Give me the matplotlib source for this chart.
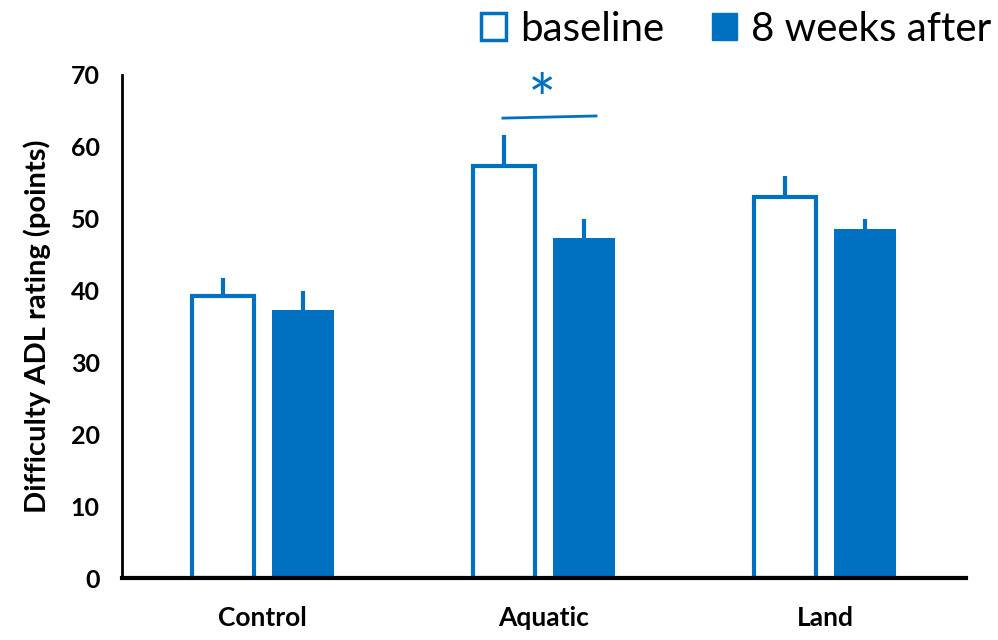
import matplotlib.pyplot as plt
import numpy as np
from matplotlib.patches import Patch

# data
groups = ["Control", "Aquatic", "Land"]
baseline = [39.2, 57.4, 53.0]
baseline_err = [2.5, 4.2, 3.0]
after = [37.3, 47.3, 48.5]
after_err = [2.6, 2.6, 1.4]

blue = "#0070C0"
plt.rcParams['font.family'] = ['Lato', 'DejaVu Sans']

fig = plt.figure(figsize=(9.98, 6.4), dpi=100)
ax = fig.add_axes([122/998, 62/640, (966-122)/998, (578-75)/640])

x = np.arange(len(groups))
w = 0.22
off = 0.142

ax.bar(x - off, baseline, w, color="white", edgecolor=blue, linewidth=3, zorder=2)
ax.bar(x + off, after, w, color=blue, edgecolor=blue, linewidth=0, zorder=2)
# upper error bars only, no caps
ax.errorbar(x - off, baseline, yerr=[np.zeros(3), baseline_err], fmt="none",
            ecolor=blue, elinewidth=3, capsize=0, zorder=1)
ax.errorbar(x + off, after, yerr=[np.zeros(3), after_err], fmt="none",
            ecolor=blue, elinewidth=3, capsize=0, zorder=1)

# significance mark over Aquatic
ax.plot([0.854, 1.185], [64.0, 64.3], color=blue, lw=2)
ax.text(0.993, 66.0, "*", color=blue, fontsize=48, ha="center", va="center")

ax.set_xlim(-0.5, 2.5)
ax.set_ylim(0, 70)
ax.set_yticks(range(0, 71, 10))
ax.set_xticks(x)
ax.set_xticklabels(groups, fontsize=19, fontweight="bold")
for lab in ax.get_yticklabels():
    lab.set_fontsize(18)
    lab.set_fontweight("bold")
ax.tick_params(length=0)
ax.tick_params(axis="y", pad=16)
ax.tick_params(axis="x", pad=20)
ax.set_ylabel("Difficulty ADL rating (points)", fontsize=21, fontweight="bold", labelpad=14)

for s in ["top", "right"]:
    ax.spines[s].set_visible(False)
ax.spines["left"].set_linewidth(2)
ax.spines["bottom"].set_linewidth(3)

handles = [Patch(facecolor="white", edgecolor=blue, linewidth=2.5, label="baseline"),
           Patch(facecolor=blue, edgecolor=blue, label="8 weeks after")]
fig.legend(handles=handles, loc="upper right", bbox_to_anchor=(1.03, 1.04), ncol=2,
           frameon=False, fontsize=29, handlelength=0.62, handleheight=0.62,
           handletextpad=0.35, columnspacing=1.2)

fig.savefig("out.png", dpi=100)
